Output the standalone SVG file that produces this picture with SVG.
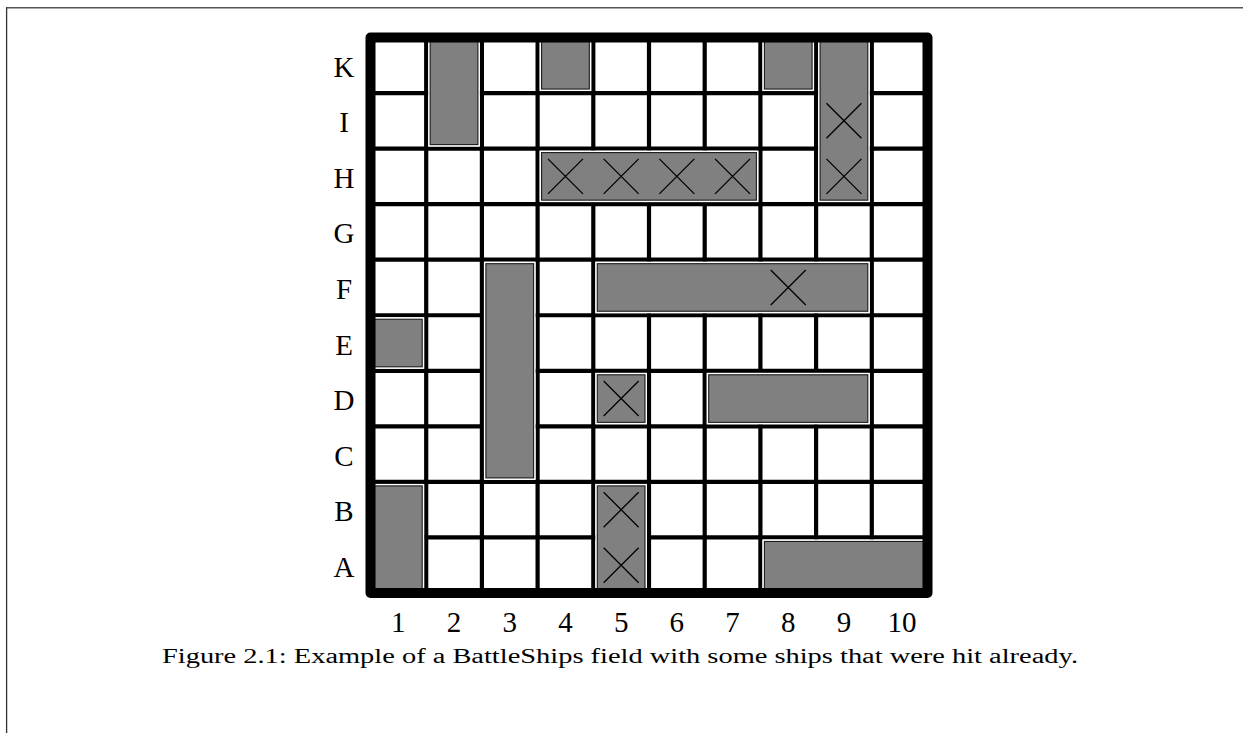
<svg xmlns="http://www.w3.org/2000/svg" xmlns:xlink="http://www.w3.org/1999/xlink" width="1243" height="733" viewBox="0 0 1243 733">
<style>
  .grid line { stroke: #000; stroke-width: 4.2; }
  .halo { fill: none; stroke: #fff; stroke-width: 4; }
  .ship { fill: #808080; stroke: #1a1a1a; stroke-width: 1.1; }
  .hit { stroke: #000; stroke-width: 1.3; fill: none; }
  .lbl { font-family: "Liberation Serif", "DejaVu Serif", serif; font-size: 29px; fill: #000; text-anchor: middle; }
  .cap { font-family: "Liberation Serif", "DejaVu Serif", serif; font-size: 20px; fill: #000; text-anchor: middle; }
</style>
<defs>
  <path id="x" class="hit" d="M-17.5,-17.5 L17.5,17.5 M17.5,-17.5 L-17.5,17.5"/>
</defs>
<rect width="1243" height="733" fill="#fff"/>
<g id="page-frame">
  <line x1="6" y1="7.8" x2="1243" y2="7.8" stroke="#555" stroke-width="1.4"/>
  <line x1="6.6" y1="7.2" x2="6.6" y2="733" stroke="#333" stroke-width="1.3"/>
</g>
<g id="grid" class="grid">
  <line x1="426.2" y1="37.5" x2="426.2" y2="593"/>
  <line x1="481.9" y1="37.5" x2="481.9" y2="593"/>
  <line x1="537.6" y1="37.5" x2="537.6" y2="593"/>
  <line x1="593.3" y1="37.5" x2="593.3" y2="593"/>
  <line x1="649" y1="37.5" x2="649" y2="593"/>
  <line x1="704.7" y1="37.5" x2="704.7" y2="593"/>
  <line x1="760.4" y1="37.5" x2="760.4" y2="593"/>
  <line x1="816.1" y1="37.5" x2="816.1" y2="593"/>
  <line x1="871.8" y1="37.5" x2="871.8" y2="593"/>
  <line x1="370.5" y1="93.05" x2="927.5" y2="93.05"/>
  <line x1="370.5" y1="148.6" x2="927.5" y2="148.6"/>
  <line x1="370.5" y1="204.15" x2="927.5" y2="204.15"/>
  <line x1="370.5" y1="259.7" x2="927.5" y2="259.7"/>
  <line x1="370.5" y1="315.25" x2="927.5" y2="315.25"/>
  <line x1="370.5" y1="370.8" x2="927.5" y2="370.8"/>
  <line x1="370.5" y1="426.35" x2="927.5" y2="426.35"/>
  <line x1="370.5" y1="481.9" x2="927.5" y2="481.9"/>
  <line x1="370.5" y1="537.45" x2="927.5" y2="537.45"/>
</g>
<g id="ships">
  <g id="ship-K2-I2"><rect class="halo" x="430.2" y="41.5" width="47.7" height="103.1"/><rect class="ship" x="430.2" y="41.5" width="47.7" height="103.1"/></g>
  <g id="ship-K4"><rect class="halo" x="541.6" y="41.5" width="47.7" height="47.55"/><rect class="ship" x="541.6" y="41.5" width="47.7" height="47.55"/></g>
  <g id="ship-K8"><rect class="halo" x="764.4" y="41.5" width="47.7" height="47.55"/><rect class="ship" x="764.4" y="41.5" width="47.7" height="47.55"/></g>
  <g id="ship-K9-H9"><rect class="halo" x="820.1" y="41.5" width="47.7" height="158.65"/><rect class="ship" x="820.1" y="41.5" width="47.7" height="158.65"/>
    <use xlink:href="#x" x="843.95" y="120.825"/><use xlink:href="#x" x="843.95" y="176.375"/></g>
  <g id="ship-H4-H7"><rect class="halo" x="541.6" y="152.6" width="214.8" height="47.55"/><rect class="ship" x="541.6" y="152.6" width="214.8" height="47.55"/>
    <use xlink:href="#x" x="565.45" y="176.375"/><use xlink:href="#x" x="621.15" y="176.375"/><use xlink:href="#x" x="676.85" y="176.375"/><use xlink:href="#x" x="732.55" y="176.375"/></g>
  <g id="ship-F3-C3"><rect class="halo" x="485.9" y="263.7" width="47.7" height="214.2"/><rect class="ship" x="485.9" y="263.7" width="47.7" height="214.2"/></g>
  <g id="ship-F5-F9"><rect class="halo" x="597.3" y="263.7" width="270.5" height="47.55"/><rect class="ship" x="597.3" y="263.7" width="270.5" height="47.55"/>
    <use xlink:href="#x" x="788.25" y="287.475"/></g>
  <g id="ship-E1"><rect class="halo" x="374.5" y="319.25" width="47.7" height="47.55"/><rect class="ship" x="374.5" y="319.25" width="47.7" height="47.55"/></g>
  <g id="ship-D5"><rect class="halo" x="597.3" y="374.8" width="47.7" height="47.55"/><rect class="ship" x="597.3" y="374.8" width="47.7" height="47.55"/>
    <use xlink:href="#x" x="621.15" y="398.575"/></g>
  <g id="ship-D7-D9"><rect class="halo" x="708.7" y="374.8" width="159.1" height="47.55"/><rect class="ship" x="708.7" y="374.8" width="159.1" height="47.55"/></g>
  <g id="ship-B1-A1"><rect class="halo" x="374.5" y="485.9" width="47.7" height="103.1"/><rect class="ship" x="374.5" y="485.9" width="47.7" height="103.1"/></g>
  <g id="ship-B5-A5"><rect class="halo" x="597.3" y="485.9" width="47.7" height="103.1"/><rect class="ship" x="597.3" y="485.9" width="47.7" height="103.1"/>
    <use xlink:href="#x" x="621.15" y="509.675"/><use xlink:href="#x" x="621.15" y="565.225"/></g>
  <g id="ship-A8-A10"><rect class="halo" x="764.4" y="541.45" width="159.1" height="47.55"/><rect class="ship" x="764.4" y="541.45" width="159.1" height="47.55"/></g>
</g>
<g id="frame">
  <rect x="370.5" y="37.5" width="557" height="555.5" fill="none" stroke="#000" stroke-width="10" stroke-linejoin="round"/>
</g>
<g id="row-labels">
  <text class="lbl" x="344" y="76.8">K</text>
  <text class="lbl" x="344" y="132.3">I</text>
  <text class="lbl" x="344" y="187.9">H</text>
  <text class="lbl" x="344" y="243.4">G</text>
  <text class="lbl" x="344" y="299">F</text>
  <text class="lbl" x="344" y="354.5">E</text>
  <text class="lbl" x="344" y="410.1">D</text>
  <text class="lbl" x="344" y="465.6">C</text>
  <text class="lbl" x="344" y="521.2">B</text>
  <text class="lbl" x="344" y="576.7">A</text>
</g>
<g id="col-labels">
  <text class="lbl" x="398.35" y="632">1</text>
  <text class="lbl" x="454.05" y="632">2</text>
  <text class="lbl" x="509.75" y="632">3</text>
  <text class="lbl" x="565.45" y="632">4</text>
  <text class="lbl" x="621.15" y="632">5</text>
  <text class="lbl" x="676.85" y="632">6</text>
  <text class="lbl" x="732.55" y="632">7</text>
  <text class="lbl" x="788.25" y="632">8</text>
  <text class="lbl" x="843.95" y="632">9</text>
  <text class="lbl" x="902" y="632">10</text>
</g>
<g id="caption">
  <text class="cap" x="620" y="663" textLength="916" lengthAdjust="spacingAndGlyphs">Figure 2.1: Example of a BattleShips field with some ships that were hit already.</text>
</g>
</svg>
